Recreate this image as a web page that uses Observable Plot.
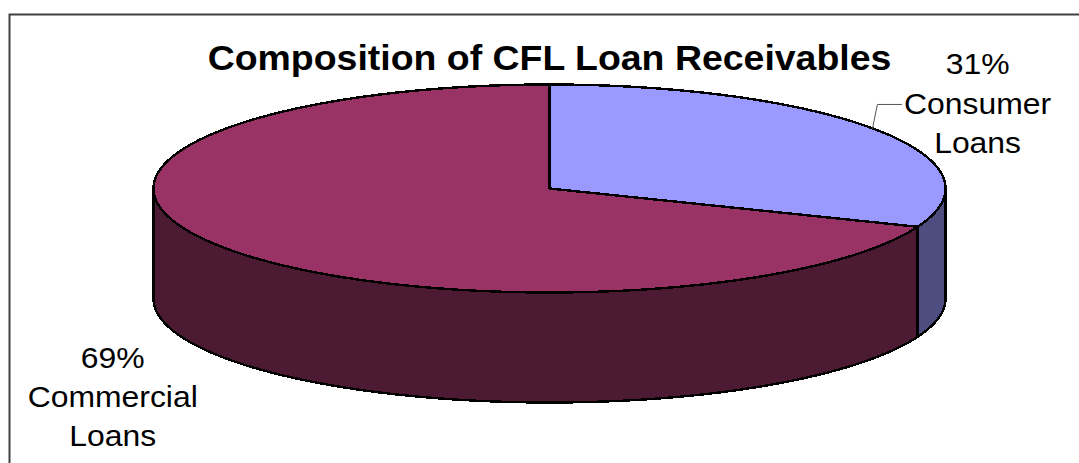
<!DOCTYPE html>
<html>
<head>
<meta charset="utf-8">
<script src="https://cdn.jsdelivr.net/npm/d3@7"></script>
<script src="https://cdn.jsdelivr.net/npm/@observablehq/plot@0.6"></script>
<style>html,body{margin:0;padding:0;background:#fff;overflow:hidden}svg{display:block}</style>
</head>
<body>
<div id="chart"></div>
<script>
const titleText = "Composition of CFL Loan Receivables";
const categories = ["Consumer Loans", "Commercial Loans"];
const shares = [31, 69];
const topColors = ["#9999FF", "#993366"];
const sideColors = ["#4D4D80", "#4D1A33"];
const labelLines = ["31%\nConsumer\nLoans", "69%\nCommercial\nLoans"];

// layout, in pie units (the ellipse spans -1..1 on each axis)
const depth = 110 / 104;
const labelX = [1.081, -1.103];
const labelY = [0.84, -1.98];
const leaderX = [0.8157, 0.828, 0.889];
const leaderY = [0.577, 0.808, 0.808];
const titleX = 0;
const titleY = 1.25;
const widenLabel = 1.1;
const widenTitle = 1.07;

const total = d3.sum(shares);
const turn = shares.map((_, i) => d3.sum(shares.slice(0, i)) / total);
const turnEnd = shares.map((_, i) => d3.sum(shares.slice(0, i + 1)) / total);
// f is the share of the full turn, clockwise from twelve o'clock
const rim = (f, drop = 0) => ({x: Math.sin(2 * Math.PI * f), y: Math.cos(2 * Math.PI * f) - drop});
const sweep = (a, b, drop = 0) => {
  const n = Math.max(2, Math.ceil((b - a) * 720));
  return d3.range(n + 1).map(i => rim(a + (b - a) * i / n, drop));
};
const tops = shares.map((_, i) => [{x: 0, y: 0}, ...sweep(turn[i], turnEnd[i])]);
const sides = shares.map((_, i) => {
  const a = Math.max(turn[i], 0.25), b = Math.min(turnEnd[i], 0.75);
  return [...sweep(a, b), ...sweep(a, b, depth).reverse()];
});

const outline = {stroke: "#000", strokeWidth: 2.4, strokeLinejoin: "round", shapeRendering: "crispEdges"};
const marks = [Plot.frame({stroke: "#404040", strokeWidth: 2})];
shares.forEach((_, i) => marks.push(Plot.line(sides[i], {
  x: "x", y: "y", curve: "linear-closed", fill: sideColors[i], ...outline
})));
shares.forEach((_, i) => marks.push(Plot.line(tops[i], {
  x: "x", y: "y", curve: "linear-closed", fill: topColors[i], ...outline
})));
marks.push(Plot.line(leaderX.map((x, i) => ({x, y: leaderY[i]})), {
  x: "x", y: "y", stroke: "#555", strokeWidth: 1
}));
marks.push(Plot.text(labelLines.map((t, i) => ({t, x: labelX[i], y: labelY[i]})), {
  x: "x", y: "y", text: "t", fontSize: 29, lineHeight: 1.36, lineAnchor: "middle",
  fontFamily: "Liberation Sans", fill: "#000", className: "lab"
}));
marks.push(Plot.text([{t: titleText, x: titleX, y: titleY}], {
  x: "x", y: "y", text: "t", fontSize: 35, fontWeight: "bold", lineAnchor: "middle",
  fontFamily: "Liberation Sans", fill: "#000", className: "ttl"
}));

const plot = Plot.plot({
  width: 1079, height: 463,
  marginLeft: 9, marginTop: 14, marginRight: -20, marginBottom: -20,
  style: {background: "#fff"},
  x: {domain: [-1, 1], range: [153, 945], axis: null},
  y: {domain: [1, -1], range: [84, 292], axis: null},
  marks
});
const widenAll = (sel, k) => d3.select(plot).selectAll(sel).each(function () {
  const t = this.getAttribute("transform");
  if (t) this.setAttribute("transform", t + ` scale(${k},1)`);
});
widenAll(".lab text", widenLabel);
widenAll(".ttl text", widenTitle);
document.getElementById("chart").append(plot);
</script>
</body>
</html>
